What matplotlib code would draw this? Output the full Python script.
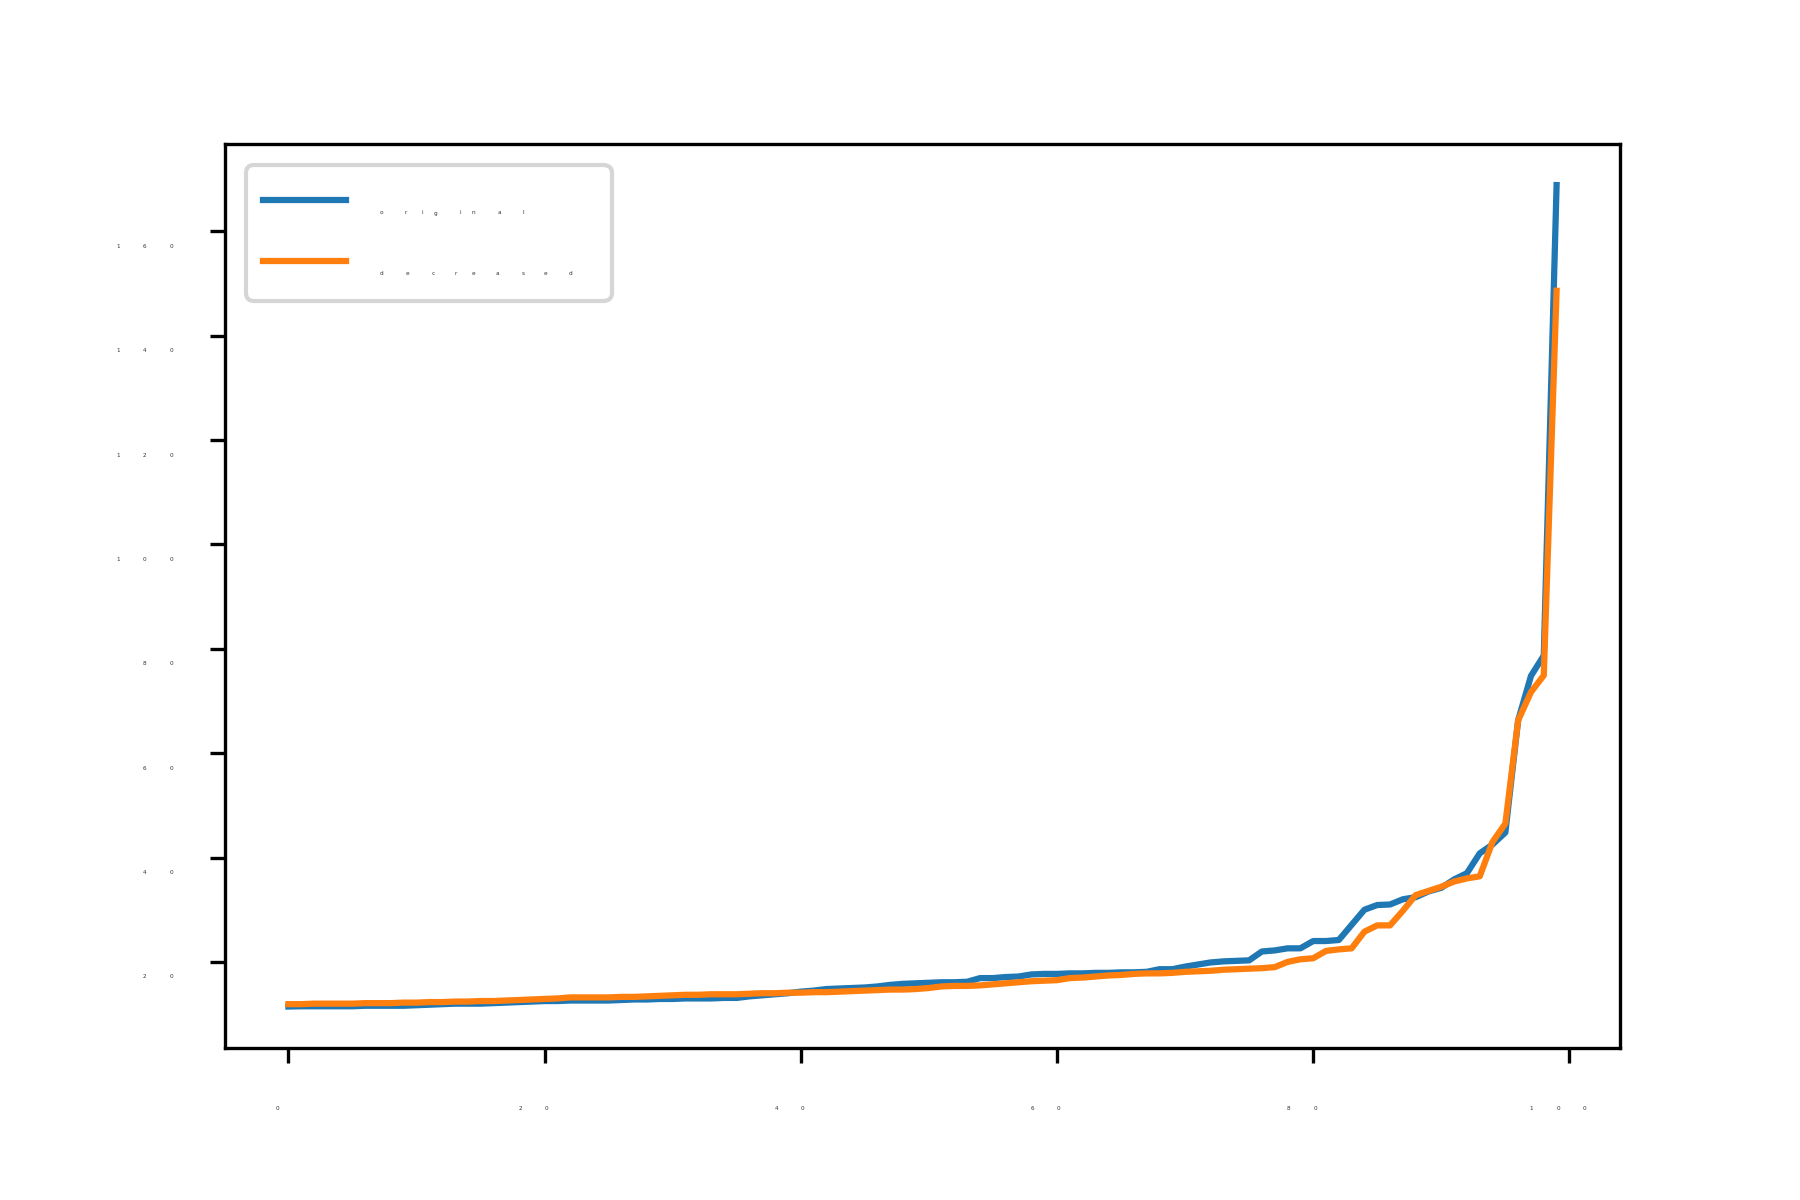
import matplotlib
matplotlib.use("Agg")
import matplotlib.pyplot as plt

# dados
x = list(range(100))
original = [11.45, 11.5, 11.5, 11.5, 11.5, 11.5, 11.6, 11.6, 11.6, 11.6,
            11.7, 11.8, 11.9, 12.0, 12.0, 12.0, 12.1, 12.2, 12.3, 12.4,
            12.5, 12.5, 12.6, 12.6, 12.6, 12.6, 12.7, 12.8, 12.8, 12.9,
            12.9, 13.0, 13.0, 13.0, 13.1, 13.1, 13.4, 13.6, 13.8, 14.0,
            14.3, 14.5, 14.8, 14.9, 15.0, 15.1, 15.3, 15.6, 15.8, 15.9,
            16.0, 16.1, 16.1, 16.2, 16.9, 16.9, 17.1, 17.2, 17.6, 17.7,
            17.7, 17.8, 17.8, 17.9, 17.9, 18.0, 18.0, 18.1, 18.6, 18.6,
            19.1, 19.5, 19.9, 20.1, 20.2, 20.3, 22.0, 22.2, 22.6, 22.6,
            24.0, 24.0, 24.2, 27.1, 30.0, 30.9, 31.0, 32.0, 32.4, 33.5,
            34.2, 35.8, 37.0, 40.8, 42.5, 44.8, 66.3, 74.8, 78.7, 168.85]
decreased = [11.9, 11.9, 12.0, 12.0, 12.0, 12.0, 12.1, 12.1, 12.1, 12.2,
             12.2, 12.3, 12.3, 12.4, 12.4, 12.5, 12.5, 12.6, 12.7, 12.8,
             12.9, 13.0, 13.2, 13.2, 13.2, 13.2, 13.3, 13.3, 13.4, 13.5,
             13.6, 13.7, 13.7, 13.8, 13.8, 13.8, 13.9, 14.0, 14.0, 14.1,
             14.1, 14.2, 14.2, 14.3, 14.4, 14.5, 14.6, 14.7, 14.7, 14.8,
             15.0, 15.3, 15.4, 15.4, 15.5, 15.7, 15.9, 16.1, 16.3, 16.4,
             16.5, 16.9, 17.0, 17.2, 17.4, 17.5, 17.7, 17.8, 17.8, 17.9,
             18.1, 18.2, 18.3, 18.5, 18.6, 18.7, 18.8, 19.0, 20.0, 20.5,
             20.7, 22.1, 22.4, 22.6, 25.8, 27.0, 27.0, 29.8, 32.8, 33.6,
             34.4, 35.4, 36.0, 36.4, 43.0, 46.5, 66.3, 71.7, 74.9, 148.6]
xticks = [0, 20, 40, 60, 80, 100]
yticks = [20, 40, 60, 80, 100, 120, 140, 160]

fig = plt.figure(figsize=(6, 4), dpi=300)
ax = fig.add_axes([0.125, 0.127, 0.775, 0.753])

ax.plot(x, original, label="original")
ax.plot(x, decreased, label="decreased")
ax.set_xticks(xticks)
ax.set_yticks(yticks)
leg = ax.legend(loc="upper left", labelspacing=0.45)

# no original os glifos saem minúsculos, mas com o espaçamento normal:
# desenha cada letra pequena na posição que teria no texto normal
fig.canvas.draw()
renderer = fig.canvas.get_renderer()
W, H = fig.bbox.width, fig.bbox.height


def espalha(t):
    s = t.get_text()
    if not s or not t.get_visible():
        return
    bb = t.get_window_extent(renderer)
    prop = t.get_fontproperties()
    d = renderer.get_text_width_height_descent(s, prop, ismath=False)[2]
    d_lp = renderer.get_text_width_height_descent("lp", prop, ismath=False)[2]
    base = bb.y0 + max(d, d_lp)
    for i, ch in enumerate(s):
        w = renderer.get_text_width_height_descent(s[:i], prop, ismath=False)[0] if i else 0
        fig.text((bb.x0 + w) / W, base / H, ch, fontsize=1.4,
                 ha="left", va="baseline", color="#333333")
    t.set_visible(False)


for t in ax.get_xticklabels() + ax.get_yticklabels() + leg.get_texts():
    espalha(t)

plt.savefig("out.png", dpi=300)
